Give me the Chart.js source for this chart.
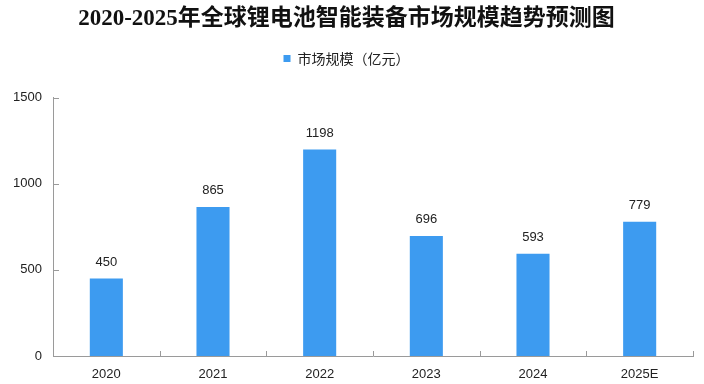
<!DOCTYPE html>
<html>
<head>
<meta charset="utf-8">
<script src="https://cdn.jsdelivr.net/npm/chart.js@4/dist/chart.umd.min.js"></script>
<style>
html,body{margin:0;padding:0;background:#fff;}
#wrap{width:704px;height:384px;position:relative;}
</style>
</head>
<body>
<div id="wrap"><canvas id="c" width="704" height="384"></canvas></div>
<script>
const titleText = '2020-2025年全球锂电池智能装备市场规模趋势预测图';
const seriesName = '市场规模（亿元）';
const categories = ['2020', '2021', '2022', '2023', '2024', '2025E'];
const marketSize = [450, 865, 1198, 696, 593, 779];
const yTicks = [0, 500, 1000, 1500];

const barColor = '#3d9bf0';
const axisColor = '#9a9a9a';

const legendSpacer = {
  id: 'legendSpacer',
  beforeInit(chart) {
    const orig = chart.legend.fit;
    chart.legend.fit = function () {
      orig.call(this);
      this.height += 22;
    };
  }
};

const innerTicks = {
  id: 'innerTicks',
  afterDraw(chart) {
    const ctx = chart.ctx;
    const x = chart.scales.x, y = chart.scales.y;
    const area = chart.chartArea;
    ctx.save();
    ctx.strokeStyle = axisColor;
    ctx.lineWidth = 1;
    ctx.beginPath();
    yTicks.forEach(v => {
      if (v === 0) return;
      const py = Math.round(y.getPixelForValue(v)) + 0.5;
      ctx.moveTo(area.left, py);
      ctx.lineTo(area.left + 6, py);
    });
    const n = categories.length;
    const step = x.getPixelForValue(1) - x.getPixelForValue(0);
    for (let i = 1; i <= n; i++) {
      const px = Math.round(x.getPixelForValue(i - 1) + step / 2) + 0.5;
      ctx.moveTo(px, area.bottom);
      ctx.lineTo(px, area.bottom - 5);
    }
    ctx.stroke();
    ctx.restore();
  }
};

const valueLabels = {
  id: 'valueLabels',
  afterDatasetsDraw(chart) {
    const ctx = chart.ctx;
    const meta = chart.getDatasetMeta(0);
    ctx.save();
    ctx.fillStyle = '#222';
    ctx.font = '13px "Liberation Sans", Arial, sans-serif';
    ctx.textAlign = 'center';
    ctx.textBaseline = 'bottom';
    meta.data.forEach((el, i) => {
      ctx.fillText(String(marketSize[i]), el.x, el.y - 10);
    });
    ctx.restore();
  }
};

new Chart(document.getElementById('c'), {
  type: 'bar',
  data: {
    labels: categories,
    datasets: [{
      label: seriesName,
      data: marketSize,
      backgroundColor: barColor,
      borderWidth: 0,
      barPercentage: 0.31,
      categoryPercentage: 1.0
    }]
  },
  options: {
    responsive: false,
    animation: false,
    devicePixelRatio: 1,
    layout: { padding: { left: 0, right: 11, top: 5, bottom: 0 } },
    plugins: {
      title: {
        display: true,
        text: titleText,
        color: '#111',
        font: { family: '"Liberation Serif", "Noto Sans CJK SC", serif', size: 23, weight: 'bold' },
        padding: { top: 0, bottom: 9 }
      },
      legend: {
        display: true,
        position: 'top',
        labels: {
          boxWidth: 7,
          boxHeight: 7,
          color: '#222',
          font: { family: '"Noto Sans CJK SC", sans-serif', size: 14 },
          padding: 10
        }
      },
      tooltip: { enabled: false }
    },
    scales: {
      x: {
        afterFit(scale) { scale.height = 28; },
        grid: { display: false, drawTicks: false },
        border: { display: true, color: axisColor, width: 1 },
        ticks: {
          color: '#222',
          font: { family: '"Liberation Sans", Arial, sans-serif', size: 13 },
          padding: 11
        }
      },
      y: {
        min: 0,
        max: 1500,
        afterBuildTicks(scale) { scale.ticks = yTicks.map(v => ({ value: v })); },
        afterFit(scale) { scale.width = 53; },
        grid: { display: false, drawTicks: false },
        border: { display: true, color: axisColor, width: 1 },
        ticks: {
          color: '#222',
          font: { family: '"Liberation Sans", Arial, sans-serif', size: 13 },
          padding: 11,
          callback: (v) => String(v)
        }
      }
    }
  },
  plugins: [legendSpacer, innerTicks, valueLabels]
});
</script>
</body>
</html>
